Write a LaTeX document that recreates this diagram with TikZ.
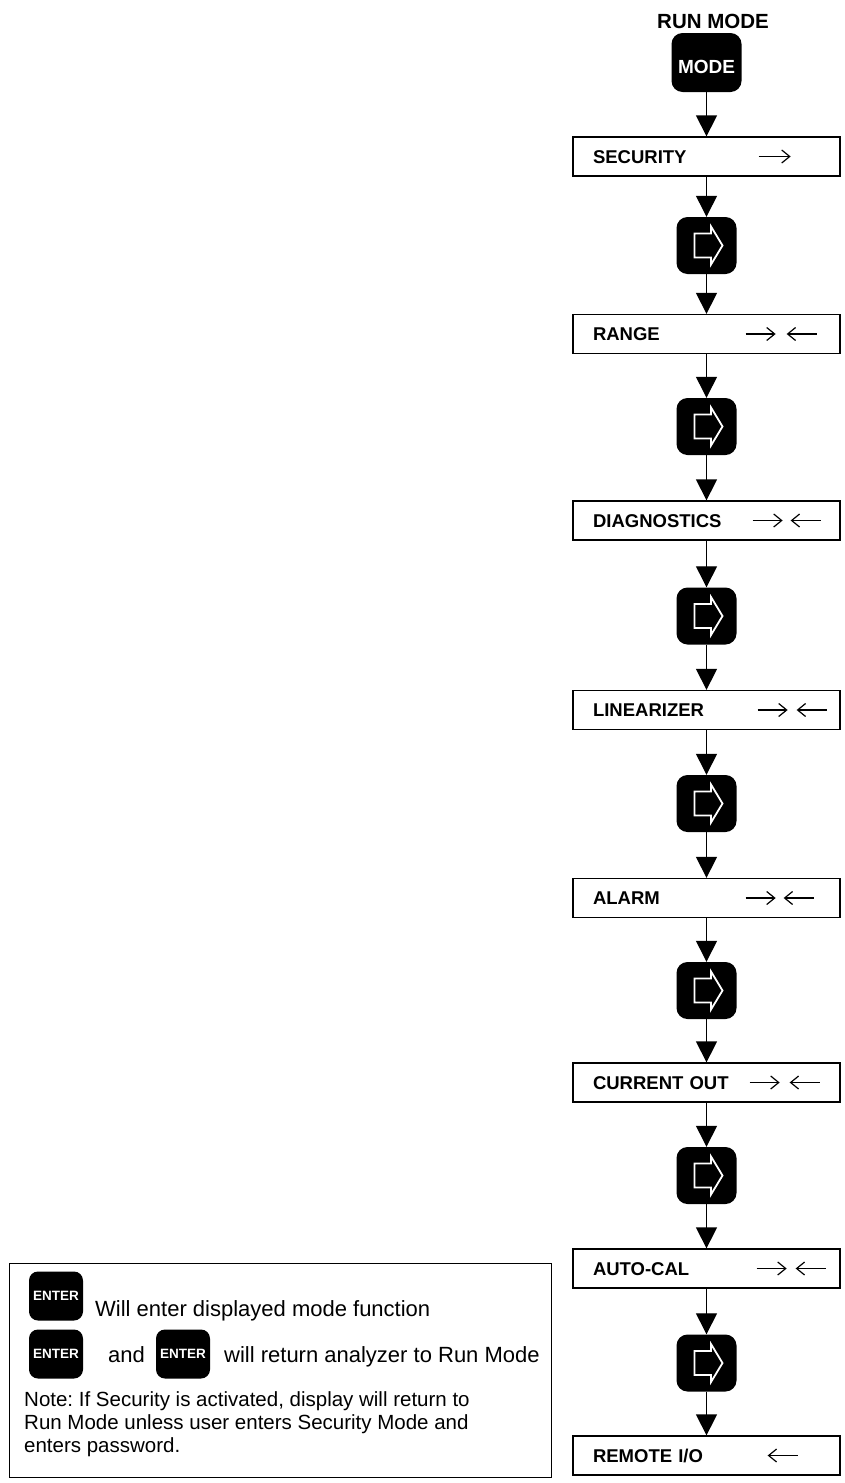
\documentclass[tikz,border=0pt]{standalone}
\usepackage{fontspec}
\setmainfont{Liberation Sans}
\usetikzlibrary{arrows.meta}
\frenchspacing

\begin{document}
\begin{tikzpicture}[x=1pt,y=-1pt,
		flow/.style={line width=1.3pt,-{Triangle[length=21pt,width=21pt]}},
		glyph/.style={line width=1.2pt,-{Straight Barb[length=8pt,width=13pt]}},
		menubox/.style={draw,line width=1.3pt,minimum height=39pt,text width=227pt,inner xsep=20pt,inner ysep=0pt,align=left,text height=13.3pt,text depth=0pt,font=\bfseries\fontsize{18.5}{20}\selectfont},
		keybox/.style={fill=black,rounded corners=11pt,minimum width=60pt,minimum height=57pt,inner sep=0pt},
		nextkey/.style={keybox,path picture={\draw[white,line width=1.8pt,sharp corners,shift={(path picture bounding box.center)}](-12,-12)--(4.5,-12)--(4.5,-19)--(16,0)--(4.5,19)--(4.5,12)--(-12,12)--cycle;}},
		enterkey/.style={fill=black,rounded corners=9pt,minimum width=54pt,minimum height=49pt,inner sep=0pt,text=white,font=\bfseries\fontsize{13.5}{14}\selectfont},
		legtext/.style={anchor=base west,inner sep=0pt,font=\fontsize{22}{22}\selectfont}]
	\useasboundingbox(0,0)rectangle(844,1483);
	\node[font=\bfseries\fontsize{20.5}{22}\selectfont] (runmode) at (713,21) {RUN MODE};
	\node[keybox,minimum width=70pt,minimum height=59pt] (mode) at (706.5,62.5) {};
	\node[text=white,font=\bfseries\fontsize{19}{20}\selectfont] (modetxt) at ([yshift=-4pt]mode.center) {MODE};
	\foreach \nm/\yy/\txt in {security/156.5/SECURITY,range/334/RANGE,diag/520.5/DIAGNOSTICS,lin/710/LINEARIZER,alarm/898/ALARM,current/1082.5/CURRENT OUT,autocal/1268.5/AUTO-CAL,remote/1455.5/{REMOTE I/O}}
		\node[menubox] (\nm) at (706.5,\yy) {\txt};
	\foreach \nm/\yy in {k1/245.5,k2/426.5,k3/616,k4/803.5,k5/990.5,k6/1175.5,k7/1363}
		\node[nextkey] (\nm) at (706.5,\yy) {};
	\foreach \a/\b in {mode/security,security/k1,k1/range,range/k2,k2/diag,diag/k3,k3/lin,lin/k4,k4/alarm,alarm/k5,k5/current,current/k6,k6/autocal,autocal/k7,k7/remote}
		\draw[flow] (\a) -- (\b);
	\draw[glyph] ([xshift=-82pt]security.east) -- ++(32,0);
	\foreach \nm/\ra/\la in {range/-95/-24,diag/-88/-20,lin/-83/-14,alarm/-95/-27,current/-91/-21,autocal/-84/-15}{
		\draw[glyph] ([xshift=\ra pt]\nm.east) -- ++(30,0);
		\draw[glyph] ([xshift=\la pt]\nm.east) -- ++(-30,0);
	}
	\draw[glyph] ([xshift=-43pt]remote.east) -- ++(-30,0);
	\node[draw,line width=1.3pt,minimum width=542pt,minimum height=214pt,anchor=north west,inner sep=0pt] (legend) at (9,1263) {};
	\node[enterkey] (ent1) at (56,1296) {ENTER};
	\node[enterkey] (ent2) at (56,1354) {ENTER};
	\node[enterkey] (ent3) at (183,1354) {ENTER};
	\node[legtext] (will) at (95,1316) {Will enter displayed mode function};
	\node[legtext] (and) at (108,1362) {and};
	\node[legtext] (ret) at (224,1362) {will return analyzer to Run Mode};
	\node[legtext,font=\fontsize{20.5}{20}\selectfont] (note1) at (24,1406) {Note: If Security is activated, display will return to};
	\node[legtext,font=\fontsize{20.5}{20}\selectfont] (note2) at (24,1429) {Run Mode unless user enters Security Mode and};
	\node[legtext,font=\fontsize{20.5}{20}\selectfont] (note3) at (24,1452) {enters password.};
\end{tikzpicture}
\end{document}
